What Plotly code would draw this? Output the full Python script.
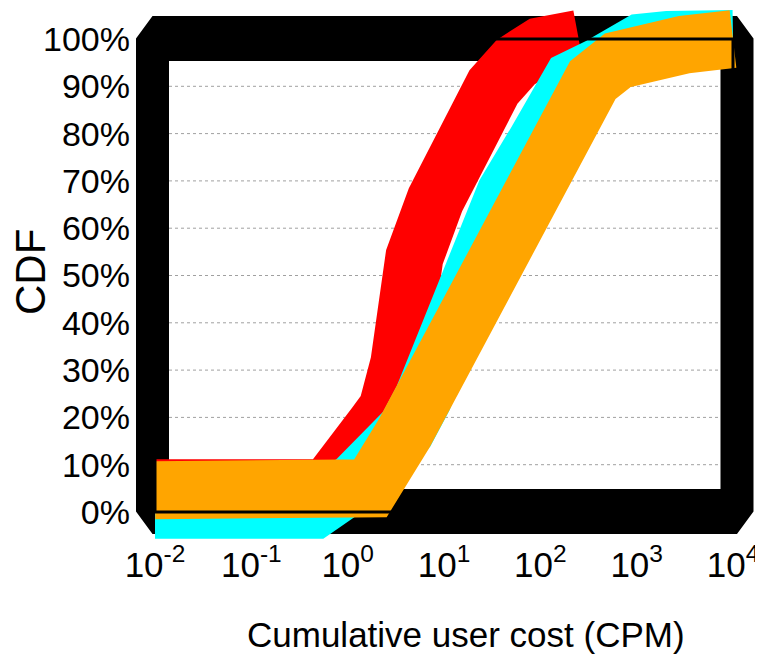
import math
import plotly.graph_objects as go

# ---------------- data ----------------
red_x = [0.01, 0.615, 1.94, 2.58, 3.44, 3.53, 4.17, 4.93, 8.15, 11.97, 15.9, 22.3, 32.7, 55.4, 100.7, 250]
red_y = [0.05, 0.05, 0.184, 0.218, 0.315, 0.357, 0.501, 0.539, 0.660, 0.744, 0.801, 0.844, 0.899, 0.951, 0.985, 1.0]

cyan_x = [0.01, 0.45, 1.2, 2.45, 4.1, 6.05, 10.3, 15.2, 19.3, 43.5, 89.3, 131, 212, 424, 684, 1104, 2109, 4325, 10000]
cyan_y = [0.005, 0.005, 0.065, 0.12, 0.175, 0.24, 0.364, 0.501, 0.533, 0.674, 0.780, 0.835, 0.913, 0.943, 0.977, 0.992, 0.998, 1.0, 1.0]

orange_x = [0.01, 1.72, 3.88, 5.70, 9.18, 12.2, 14.8, 22.8, 31.2, 44.7, 67.1, 131, 167, 250, 350, 637, 1104, 3090, 10000]
orange_y = [0.046, 0.05, 0.167, 0.230, 0.300, 0.364, 0.40, 0.497, 0.533, 0.617, 0.687, 0.759, 0.814, 0.877, 0.913, 0.955, 0.972, 0.988, 1.0]

x_tickvals = [0.01, 0.1, 1, 10, 100, 1000, 10000]
x_ticktext = ["10<sup>-2</sup>", "10<sup>-1</sup>", "10<sup>0</sup>", "10<sup>1</sup>",
              "10<sup>2</sup>", "10<sup>3</sup>", "10<sup>4</sup>"]
y_tickvals = [i / 10 for i in range(11)]
y_ticktext = [f"{i * 10}%" for i in range(11)]

x_title = "Cumulative user cost (CPM)"
y_title = "CDF"

# ---------------- layout geometry (screen pixels) ----------------
W, H = 763, 655
OFF = 8                                    # page body margin
PL, PR, PT, PB = 136, 754, 8, 541          # plot area
XLO, XHI = 155, 733                        # pixel of 1e-2 and 1e4
Y0, Y1 = 512, 39                           # pixel of 0 and 1
HX, HY = 16.5, 22.5                        # half thickness of the heavy frame

dec = (XHI - XLO) / 6.0
x_range = [-2 - (XLO - PL) / dec, 4 + (PR - XHI) / dec]
per = Y0 - Y1
y_range = [-(PB - Y0) / per, 1 + (Y1 - PT) / per]


def fx(px):
    return (px - PL) / (PR - PL)


def fy(py):
    return (PB - py) / (PB - PT)


def xpix(v):
    return XLO + (math.log10(v) + 2) * dec


def ypix(v):
    return Y0 - v * per


FONT = "Liberation Sans, Arial, sans-serif"

fig = go.Figure()
for xs, ys, col in [(red_x, red_y, "#ff0000"), (cyan_x, cyan_y, "#00ffff"), (orange_x, orange_y, "#ffa500")]:
    fig.add_trace(go.Scatter(x=xs, y=ys, mode="lines", line=dict(color=col, width=58),
                             showlegend=False, hoverinfo="skip"))

# heavy frame with bevelled corners
L, R = 152.5, 737.0
T, B = 38.5, 511.5
outer = [(L - HX, T), (L, T - HY), (R, T - HY), (R + HX, T), (R + HX, B), (R, B + HY), (L, B + HY), (L - HX, B)]
inner = [(L + HX, T + HY), (L + HX, B - HY), (R - HX, B - HY), (R - HX, T + HY)]


def path(pts):
    return "M " + " L ".join(f"{fx(a):.5f},{fy(b):.5f}" for a, b in pts) + " Z"


shapes = [dict(type="path", xref="paper", yref="paper", path=path(outer) + " " + path(inner),
               fillcolor="black", line=dict(width=0), layer="below", fillrule="evenodd")]

# dotted grid lines inside the frame
for v in y_tickvals[1:-1]:
    shapes.append(dict(type="line", xref="paper", yref="y", x0=fx(L + HX), x1=fx(R - HX), y0=v, y1=v,
                       line=dict(color="#a0a0a0", width=1, dash="dot"), layer="below"))

# thin border on top of everything
shapes.append(dict(type="rect", xref="paper", yref="paper",
                   x0=fx(xpix(x_tickvals[0])), x1=fx(xpix(x_tickvals[-1])),
                   y0=fy(ypix(0)), y1=fy(ypix(1)),
                   line=dict(color="black", width=3), fillcolor="rgba(0,0,0,0)", layer="above"))

fig.update_layout(
    width=W - OFF, height=H - OFF,
    margin=dict(l=PL - OFF, r=W - PR, t=PT - OFF, b=H - PB, pad=0),
    paper_bgcolor="white", plot_bgcolor="rgba(0,0,0,0)",
    showlegend=False,
    shapes=shapes,
    font=dict(family=FONT, color="black"),
    xaxis=dict(type="log", range=x_range, tickvals=x_tickvals, ticktext=x_ticktext,
               showgrid=False, zeroline=False, showline=False, ticks="",
               tickfont=dict(size=35, family=FONT), ticklabelstandoff=0,
               ticklabeloverflow="allow"),
    yaxis=dict(range=y_range, tickvals=y_tickvals, ticktext=y_ticktext,
               showgrid=False, zeroline=False, showline=False, ticks="",
               tickfont=dict(size=34, family=FONT), ticklabelstandoff=5,
               ticklabeloverflow="allow"),
    annotations=[
        dict(text=x_title, xref="paper", yref="paper", x=fx(466), y=fy(634),
             xanchor="center", yanchor="middle", showarrow=False,
             font=dict(size=35, family=FONT)),
        dict(text=y_title, xref="paper", yref="paper", x=fx(30), y=fy(272),
             xanchor="center", yanchor="middle", showarrow=False, textangle=-90,
             font=dict(size=42, family=FONT)),
    ],
)

fig.write_html("out.html")
